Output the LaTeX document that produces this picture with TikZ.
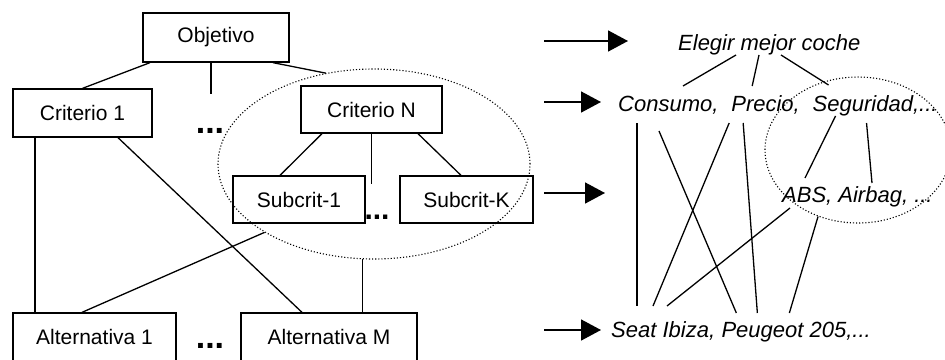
\documentclass[tikz,border=0pt]{standalone}
\usepackage{fontspec}
\setmainfont{Liberation Sans}
\usetikzlibrary{shapes.geometric, arrows.meta, positioning, calc}
\tikzset{
  caja/.style={
    rectangle, draw, line width=1.3pt,
    inner sep=0pt, text centered,
    font=\fontsize{21}{25}\selectfont,
  },
  etiq/.style={inner sep=0pt, anchor=base west, font=\fontsize{22}{26}\selectfont\itshape},
  puntos/.style={inner sep=0pt, font=\fontsize{34}{36}\selectfont\bfseries},
  grupo/.style={ellipse, draw, line width=1.1pt, dash pattern=on 1.1pt off 2pt, inner sep=0pt},
  linea/.style={line width=1.3pt},
  flecha/.style={-{Triangle[length=20pt, width=21pt]}, line width=1.6pt},
}

\begin{document}
\begin{tikzpicture}[x=1pt, y=-1pt]
  \useasboundingbox (0,0) rectangle (945,359);

  % jerarquia general (izquierda)
  \node[grupo, minimum width=312pt, minimum height=190pt] (grupo) at (374,164) {};
  \node[caja, minimum width=146pt, minimum height=49pt] (obj) at (216,37.5) {Objetivo};
  \node[caja, minimum width=139pt, minimum height=48pt] (c1) at (82.5,113) {Criterio 1};
  \node[caja, minimum width=141pt, minimum height=47pt] (cN) at (371.5,109.5) {Criterio N};
  \node[caja, minimum width=132pt, minimum height=47pt] (s1) at (299,199.5) {Subcrit-1};
  \node[caja, minimum width=133pt, minimum height=47pt] (sK) at (466.5,199.5) {Subcrit-K};
  \node[caja, minimum width=163pt, minimum height=48pt] (alt1) at (94.5,337) {Alternativa 1};
  \node[caja, minimum width=176pt, minimum height=48pt] (altM) at (329,337) {Alternativa M};
  \node[puntos] (dotsA) at (210,131) {...};
  \node[puntos, font=\fontsize{30}{32}\selectfont\bfseries] (dotsB) at (377,217) {...};
  \node[puntos] (dotsC) at (210,346) {...};
  \coordinate (stubA) at ([xshift=-5pt, yshift=-31pt]obj.south);
  \coordinate (stubB) at ([yshift=-50pt]cN.south);

  \draw[linea] ([xshift=-66pt]obj.south) -- (c1.north);
  \draw[linea] ([xshift=-5pt]obj.south) -- (stubA);
  \draw[linea] ([xshift=57pt]obj.south) -- (grupo.118);
  \draw[linea] ([xshift=-47.5pt]c1.south) -- ([xshift=-59.5pt]alt1.north);
  \draw[linea] ([xshift=35.5pt]c1.south) -- ([xshift=-27pt]altM.north);
  \draw[linea] ([xshift=-49.5pt]cN.south) -- ([xshift=-19pt]s1.north);
  \draw[linea] (cN.south) -- (stubB);
  \draw[linea] ([xshift=46.5pt]cN.south) -- ([xshift=-5.5pt]sK.north);
  \draw[linea] (grupo.212) -- ([xshift=-12.5pt]alt1.north);
  \draw[linea] (grupo.263) -- (grupo.263 |- altM.north);

  % flechas
  \coordinate (f1a) at (544,41);  \coordinate (f1b) at (628,41);
  \coordinate (f2a) at (544,102); \coordinate (f2b) at (601,102);
  \coordinate (f3a) at (544,193); \coordinate (f3b) at (605,193);
  \coordinate (f4a) at (544,330); \coordinate (f4b) at (601,330);
  \draw[flecha] (f1a) -- (f1b);
  \draw[flecha] (f2a) -- (f2b);
  \draw[flecha] (f3a) -- (f3b);
  \draw[flecha] (f4a) -- (f4b);

  % ejemplo (derecha)
  \node[grupo, minimum width=186pt, minimum height=146pt] (grupoder) at (858,150) {};
  \node[etiq] (elegir) at (678,50) {Elegir mejor coche};
  \node[etiq] (consumo) at (618,111) {Consumo,};
  \node[etiq] (precio) at ([xshift=12.5pt]consumo.base east) {Precio,};
  \node[etiq] (seguridad) at ([xshift=12.5pt]precio.base east) {Seguridad,...};
  \node[etiq] (abs) at (782,202) {ABS, Airbag, ...};
  \node[etiq] (seat) at (611,337) {Seat Ibiza,};
  \node[etiq] (peugeot) at ([xshift=6pt]seat.base east) {Peugeot 205,...};

  \draw[linea] ([shift={(58,5)}]elegir.base west) -- ([shift={(65,-25)}]consumo.base west);
  \draw[linea] ([shift={(81,5)}]elegir.base west) -- ([shift={(21,-25)}]precio.base west);
  \draw[linea] ([shift={(103,5)}]elegir.base west) -- ([shift={(16,-26)}]seguridad.base west);
  \draw[linea] ([shift={(19,12)}]consumo.base west) -- ([shift={(26,-31)}]seat.base west);
  \draw[linea] ([shift={(41,20)}]consumo.base west) -- ([shift={(15,-24)}]peugeot.base west);
  \draw[linea] ([shift={(-2,12)}]precio.base west) -- ([shift={(42,-31)}]seat.base west);
  \draw[linea] ([shift={(12,12)}]precio.base west) -- ([shift={(36,-24)}]peugeot.base west);
  \draw[linea] ([shift={(23,5)}]seguridad.base west) -- ([shift={(23,-24)}]abs.base west);
  \draw[linea] ([shift={(54,12)}]seguridad.base west) -- ([shift={(90,-19)}]abs.base west);
  \draw[linea] ([shift={(8,6)}]abs.base west) -- ([shift={(56,-31)}]seat.base west);
  \draw[linea] (grupoder.239) -- ([shift={(68,-24)}]peugeot.base west);

\end{tikzpicture}
\end{document}
